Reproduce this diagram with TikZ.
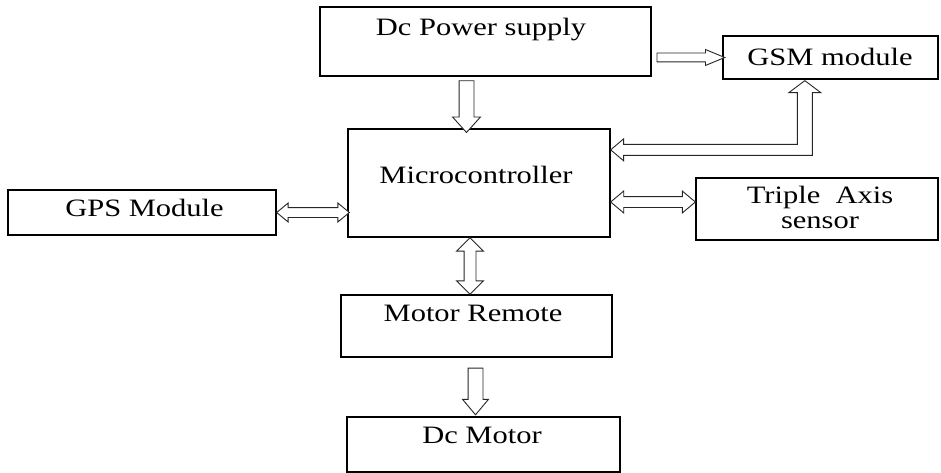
\documentclass[tikz,border=0pt]{standalone}
\usepackage{fontspec}
\setmainfont{Liberation Serif}[FakeStretch=1.22]
\usetikzlibrary{shapes.arrows,calc}
\newcommand\hollowarrow[3]{%
  \path let \p1=(#2), \p2=(#3),
    \n1={veclen(\x2-\x1,\y2-\y1)}, \n2={atan2(\y2-\y1,\x2-\x1)} in
    node[#1, minimum height=\n1, rotate=\n2] at ({(\x1+\x2)/2},{(\y1+\y2)/2}) {};}
\tikzset{
  box/.style={draw=black, line width=1.3pt, inner sep=0pt, fill=white},
  lbl/.style={anchor=base, inner sep=0pt, align=center, text=black,
    font=\fontsize{25}{25}\selectfont},
  arr/.style={draw=black!85, line width=0.9pt, fill=white, inner xsep=0pt, minimum width=0pt},
  sarr/.style={arr, single arrow},
  darr/.style={arr, double arrow},
}
\begin{document}
\begin{tikzpicture}[x=1pt,y=-1pt]
\useasboundingbox[fill=white] (0,0) rectangle (941,473);
% boxes
\node[box, minimum width=331, minimum height=69] (ps) at (485.5,41.5) {};
\node[box, minimum width=215, minimum height=43] (gsm) at (830.5,57.5) {};
\node[box, minimum width=262, minimum height=108] (mc) at (479,183) {};
\node[box, minimum width=268, minimum height=45] (gps) at (142,212.5) {};
\node[box, minimum width=242, minimum height=62] (tri) at (817,209) {};
\node[box, minimum width=271, minimum height=62] (mr) at (476.5,326) {};
\node[box, minimum width=273, minimum height=55] (dm) at (483.5,444.5) {};
% labels
\node[lbl] (pst) at (481,35.5) {Dc Power supply};
\node[lbl] (gsmt) at (830,65.5) {GSM module};
\node[lbl] (mct) at (476,183.5) {Microcontroller};
\node[lbl] (gpst) at (144.5,216.5) {GPS Module};
\node[lbl] (trit1) at (820,203.5) {Triple\ \ Axis};
\node[lbl] (trit2) at (820,228.5) {sensor};
\node[lbl] (mrt) at (473,321.5) {Motor Remote};
\node[lbl] (dmt) at (482,443.5) {Dc Motor};
% connector end points
\coordinate (a1s) at (ps.east |- gsm.west);
\coordinate (a1e) at ($(gsm.west)+(-3,0)$);
\coordinate (a2s) at ($(ps.south)+(-19,0)$);
\coordinate (a2e) at (a2s |- mc.north);
\coordinate (a3s) at (gps.east);
\coordinate (a3e) at ($(gps.east -| mc.west)+(2,0)$);
\coordinate (a4e) at ($(tri.west)+(0,-7)$);
\coordinate (a4s) at (a4e -| mc.east);
\coordinate (a5s) at ($(mc.south)+(-9,0)$);
\coordinate (a5e) at (a5s |- mr.north);
\coordinate (a6s) at ($(mr.south)+(-1,6)$);
\coordinate (a6e) at ($(a6s |- dm.north)+(0,-6)$);
% straight hollow arrows
\hollowarrow{sarr, name=ar1, inner ysep=4pt, single arrow head extend=3.5pt, single arrow tip angle=45}{a1s}{a1e}
\hollowarrow{sarr, name=ar2, inner ysep=7pt, single arrow head extend=6.5pt, single arrow tip angle=84}{a2s}{a2e}
\hollowarrow{darr, name=ar3, inner ysep=4.5pt, double arrow head extend=4.5pt, double arrow tip angle=79}{a3s}{a3e}
\hollowarrow{darr, name=ar4, inner ysep=5pt, double arrow head extend=5.5pt, double arrow tip angle=80}{a4s}{a4e}
\hollowarrow{darr, name=ar5, inner ysep=5.5pt, double arrow head extend=7.5pt, double arrow tip angle=90}{a5s}{a5e}
\hollowarrow{sarr, name=ar6, inner ysep=7pt, single arrow head extend=5.5pt, single arrow tip angle=80}{a6s}{a6e}
% L-shaped hollow double arrow between microcontroller and GSM module
\coordinate (m1) at ($(mc.north east)+(0,21.5)$);
\coordinate (g1) at ($(gsm.south west)+(82.5,1)$);
\draw[draw=black!85, line width=0.9pt, fill=white]
  let \p1=(m1), \p2=(g1) in
  (\x1,\y1) -- ({\x1+13pt},{\y1+11pt}) -- ({\x1+13pt},{\y1+5.5pt})
  -- ({\x2-7.5pt},{\y1+5.5pt}) -- ({\x2-7.5pt},{\y2-12pt}) -- ({\x2-16pt},{\y2-12pt})
  -- (\x2,\y2) -- ({\x2+16pt},{\y2-12pt}) -- ({\x2+7.5pt},{\y2-12pt})
  -- ({\x2+7.5pt},{\y1-5.5pt}) -- ({\x1+13pt},{\y1-5.5pt}) -- ({\x1+13pt},{\y1-11pt}) -- cycle;
\end{tikzpicture}
\end{document}
